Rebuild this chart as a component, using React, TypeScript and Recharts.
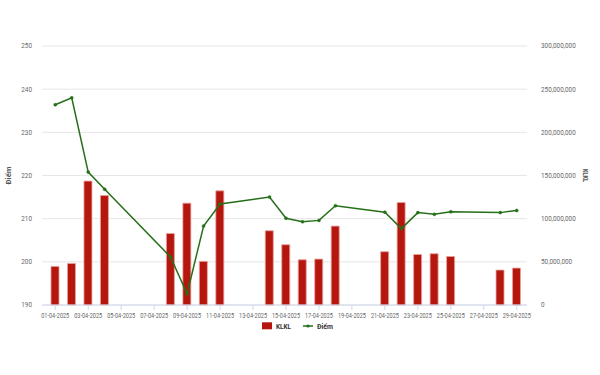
import { ComposedChart, Bar, Line, XAxis, YAxis, CartesianGrid, Legend } from "recharts";

const dates = [
  "01-04-2025", "02-04-2025", "03-04-2025", "04-04-2025", "05-04-2025", "06-04-2025",
  "07-04-2025", "08-04-2025", "09-04-2025", "10-04-2025", "11-04-2025", "12-04-2025",
  "13-04-2025", "14-04-2025", "15-04-2025", "16-04-2025", "17-04-2025", "18-04-2025",
  "19-04-2025", "20-04-2025", "21-04-2025", "22-04-2025", "23-04-2025", "24-04-2025",
  "25-04-2025", "26-04-2025", "27-04-2025", "28-04-2025", "29-04-2025",
];

// trading volume (right axis)
const klkl = [
  44700000, 48100000, 143500000, 126800000, null, null, null, 82800000, 118000000,
  50500000, 132200000, null, null, 86000000, 69800000, 52400000, 53200000, 91400000,
  null, null, 61700000, 118700000, 58500000, 59400000, 56200000, null, null, 40500000,
  42800000,
];

// index points (left axis)
const diem = [
  236.4, 238.0, 220.8, 216.8, null, null, null, 201.1, 192.6, 208.3, 213.4, null, null,
  215.0, 210.1, 209.3, 209.6, 213.0, null, null, 211.5, 207.7, 211.4, 211.0, 211.6,
  null, null, 211.4, 211.9,
];

const leftTicks = [190, 200, 210, 220, 230, 240, 250];
const rightTicks = [0, 50000000, 100000000, 150000000, 200000000, 250000000, 300000000];

const data = dates.map((date, i) => ({ date, klkl: klkl[i], diem: diem[i] }));

const FONT = "Roboto, sans-serif";
const BAR_COLOR = "#b5170f";
const LINE_COLOR = "#256f18";
const AXIS_COLOR = "#ccd6eb";
const LABEL_COLOR = "#666";
const TITLE_COLOR = "#555";

const fmt = (v: number) => v.toLocaleString("en-US");

// the original uses a narrow font, so ticks are squeezed horizontally
function XTick({ x, y, payload }: any) {
  return (
    <text
      x={x}
      y={y}
      dy="0.71em"
      textAnchor="middle"
      textLength={28}
      lengthAdjust="spacingAndGlyphs"
      fontSize={6.5}
      fill={LABEL_COLOR}
      fontFamily={FONT}
    >
      {payload.value}
    </text>
  );
}

function YTick({ x, y, payload, anchor, format }: any) {
  return (
    <text
      transform={`translate(${x},${y}) scale(0.85,1)`}
      dy="0.33em"
      textAnchor={anchor}
      fontSize={7.5}
      fill={LABEL_COLOR}
      fontFamily={FONT}
    >
      {format ? format(payload.value) : payload.value}
    </text>
  );
}

function AxisTitle({ viewBox, value, side, length }: any) {
  const cy = viewBox.y + viewBox.height / 2;
  const cx = side === "left" ? viewBox.x + 11 : viewBox.x + 56;
  return (
    <text
      transform={`translate(${cx},${cy}) rotate(${side === "left" ? -90 : 90})`}
      textAnchor="middle"
      textLength={length}
      lengthAdjust="spacingAndGlyphs"
      fontSize={8}
      fontWeight="bold"
      fill={TITLE_COLOR}
      fontFamily={FONT}
    >
      {value}
    </text>
  );
}

function LegendContent() {
  const s = 262;
  return (
    <svg width={600} height={16} style={{ display: "block" }}>
      <rect x={s} y={4.3} width={10} height={7} fill={BAR_COLOR} />
      <text x={s + 14} y={10.8} fontSize={8} fontWeight="bold" fill="#333" fontFamily={FONT} textLength={15} lengthAdjust="spacingAndGlyphs">
        KLKL
      </text>
      <line x1={s + 41} y1={8} x2={s + 51} y2={8} stroke={LINE_COLOR} strokeWidth={1.5} />
      <circle cx={s + 46} cy={8} r={1.6} fill={LINE_COLOR} />
      <text x={s + 55} y={10.8} fontSize={8} fontWeight="bold" fill="#333" fontFamily={FONT} textLength={16} lengthAdjust="spacingAndGlyphs">
        Điểm
      </text>
    </svg>
  );
}

export default function App() {
  return (
    <div style={{ position: "absolute", left: 0, top: 0, background: "#fff" }}>
      <ComposedChart
        width={600}
        height={375}
        data={data}
        margin={{ top: 46, right: 13, left: 0, bottom: 50 }}
        style={{ fontFamily: FONT }}
      >
        <CartesianGrid yAxisId="left" vertical={false} stroke="#e6e6e6" />
        <XAxis
          dataKey="date"
          interval={1}
          padding={{ left: 5, right: 2 }}
          height={20}
          tickSize={5}
          tickMargin={3}
          tick={<XTick />}
          axisLine={{ stroke: AXIS_COLOR }}
          tickLine={{ stroke: AXIS_COLOR }}
        />
        <YAxis
          yAxisId="left"
          domain={[190, 250]}
          ticks={leftTicks}
          width={42}
          axisLine={false}
          tickLine={false}
          tickMargin={4}
          tick={<YTick anchor="end" />}
          label={<AxisTitle value="Điểm" side="left" length={18} />}
        />
        <YAxis
          yAxisId="right"
          orientation="right"
          domain={[0, 300000000]}
          ticks={rightTicks}
          width={60}
          axisLine={false}
          tickLine={false}
          tickMargin={8}
          tick={<YTick anchor="start" format={fmt} />}
          label={<AxisTitle value="KLKL" side="right" length={13} />}
        />
        <Legend
          layout="horizontal"
          verticalAlign="middle"
          align="center"
          wrapperStyle={{ top: 318, left: 0, width: 600 }}
          content={<LegendContent />}
        />
        <Bar
          yAxisId="right"
          dataKey="klkl"
          name="KLKL"
          barSize={8}
          fill={BAR_COLOR}
          stroke="#e8a29c"
          strokeWidth={0.8}
          isAnimationActive={false}
        />
        <Line
          yAxisId="left"
          dataKey="diem"
          name="Điểm"
          type="linear"
          connectNulls
          stroke={LINE_COLOR}
          strokeWidth={1.5}
          dot={{ r: 1.5, fill: LINE_COLOR, stroke: LINE_COLOR, strokeWidth: 0.5 }}
          activeDot={false}
          isAnimationActive={false}
        />
      </ComposedChart>
    </div>
  );
}
